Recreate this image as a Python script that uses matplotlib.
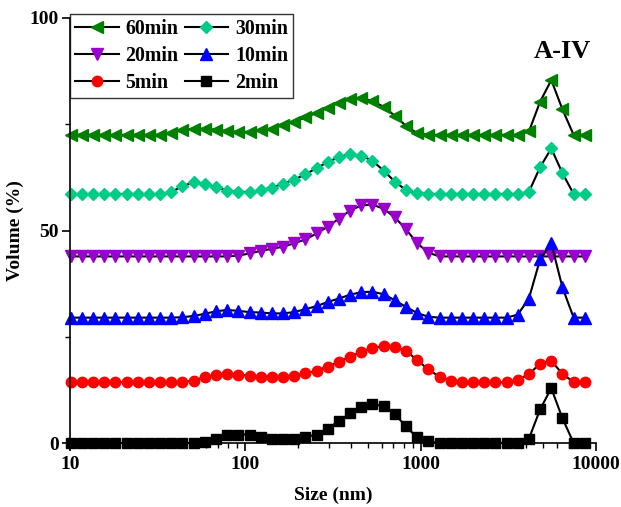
import numpy as np
import matplotlib
matplotlib.use("Agg")
import matplotlib.pyplot as plt
from matplotlib.ticker import LogLocator, NullFormatter, MultipleLocator

plt.rcParams['font.family'] = ['Liberation Serif', 'DejaVu Serif']
plt.rcParams['font.weight'] = 'bold'

size_nm = [10.1, 11.7, 13.54, 15.69, 18.17, 21.04, 24.36, 28.21, 32.67, 37.84,
           43.82, 50.75, 58.77, 68.06, 78.82, 91.28, 105.7, 122.4, 141.8, 164.2,
           190.1, 220.2, 255.0, 295.3, 342.0, 396.1, 458.7, 531.2, 615.1, 712.4,
           825.0, 955.4, 1106, 1281, 1484, 1718, 1990, 2305, 2669, 3091,
           3580, 4145, 4801, 5560, 6439, 7456, 8635]

min2 = [0, 0, 0, 0, 0, 0, 0, 0, 0, 0, 0, 0,
        0.3, 1.0, 1.8, 2.0, 2.0, 1.5, 1.0, 1.0, 1.0, 1.4, 2.0, 3.4, 5.2, 7.0,
        8.4, 9.1, 8.7, 6.8, 3.9, 1.3, 0.4,
        0, 0, 0, 0, 0, 0, 0, 0,
        1.0, 7.9, 12.9, 5.8, 0, 0]

min5 = [14.3, 14.3, 14.3, 14.3, 14.3, 14.3, 14.3, 14.3, 14.3, 14.3, 14.3,
        14.7, 15.5, 16.1, 16.3, 16.1, 15.8, 15.5, 15.5, 15.6, 15.8, 16.4, 17.0,
        18.0, 19.1, 20.3, 21.5, 22.4, 22.8, 22.7, 21.7, 19.5, 17.3, 15.6, 14.7,
        14.3, 14.3, 14.3, 14.3, 14.3,
        14.8, 16.2, 18.7, 19.3, 16.3, 14.3, 14.3]

min10 = [29.5, 29.5, 29.5, 29.5, 29.5, 29.5, 29.5, 29.5, 29.5, 29.5,
         29.6, 29.9, 30.4, 31.0, 31.3, 31.1, 30.8, 30.7, 30.5, 30.5, 30.8,
         31.5, 32.2, 33.2, 34.0, 34.9, 35.5, 35.6, 35.0, 33.6, 32.0, 30.6, 29.7,
         29.5, 29.5, 29.5, 29.5, 29.5, 29.5, 29.5,
         30.2, 34.0, 43.2, 47.0, 36.6, 29.5, 29.5]

min20 = [43.9, 43.9, 43.9, 43.9, 43.9, 43.9, 43.9, 43.9, 43.9, 43.9,
         43.9, 43.9, 43.9, 43.9, 43.9,
         44.1, 44.6, 45.2, 45.7, 46.2, 47.0, 47.9, 49.3, 50.9, 52.8, 54.7,
         55.9, 56.1, 55.1, 53.1, 50.3, 47.0, 44.8,
         43.9, 43.9, 43.9, 43.9, 43.9, 43.9, 43.9, 43.9, 43.9, 43.9, 43.9,
         43.9, 43.9, 43.9]

min30 = [58.6, 58.6, 58.6, 58.6, 58.6, 58.6, 58.6, 58.6, 58.6,
         59.1, 60.4, 61.4, 61.0, 60.2, 59.4, 59.1, 59.1, 59.5, 60.1, 61.0,
         62.0, 63.2, 64.7, 66.1, 67.3, 68.0, 67.6, 66.4, 64.1, 61.5, 59.5, 58.8,
         58.6, 58.6, 58.6, 58.6, 58.6, 58.6, 58.6, 58.6, 58.6,
         59.1, 64.9, 69.3, 63.5, 58.6, 58.6]

min60 = [72.5, 72.5, 72.5, 72.5, 72.5, 72.5, 72.5, 72.5, 72.5,
         73.0, 73.6, 74.0, 73.9, 73.7, 73.4, 73.2, 73.2, 73.6, 74.0, 74.8,
         75.6, 76.6, 77.7, 78.9, 80.1, 80.9, 81.1, 80.5, 79.1, 77.0, 74.6, 72.9,
         72.5, 72.5, 72.5, 72.5, 72.5, 72.5, 72.5, 72.5, 72.5,
         73.3, 80.3, 85.4, 78.5, 72.5, 72.5]

fig = plt.figure(figsize=(6.21, 5.07), dpi=100)
ax = fig.add_axes([0.1127, 0.1262, 0.847, 0.8383])

h60, = ax.plot(size_nm, min60, "k-", marker="<", ms=8, mfc="#008000", mec="#008000", lw=1.5, label="60min", clip_on=False)
h30, = ax.plot(size_nm, min30, "k-", marker="D", ms=6.5, mfc="#00CC88", mec="#00CC88", lw=1.5, label="30min", clip_on=False)
h20, = ax.plot(size_nm, min20, "k-", marker="v", ms=8, mfc="#9900CC", mec="#9900CC", lw=1.5, label="20min", clip_on=False)
h10, = ax.plot(size_nm, min10, "k-", marker="^", ms=8, mfc="#0000FF", mec="#0000FF", lw=1.5, label="10min", clip_on=False)
h5, = ax.plot(size_nm, min5, "k-", marker="o", ms=7.5, mfc="#FF0000", mec="#FF0000", lw=1.5, label="5min", clip_on=False)
h2, = ax.plot(size_nm, min2, "k-", marker="s", ms=6.5, mfc="k", mec="k", lw=1.5, label="2min", clip_on=False)

ax.set_xscale("log")
ax.set_xlim(10, 10000)
ax.set_ylim(0, 100)
ax.xaxis.set_minor_locator(LogLocator(base=10, subs=np.arange(2, 10)))
ax.xaxis.set_minor_formatter(NullFormatter())
ax.set_xticks([10, 100, 1000, 10000])
ax.set_xticklabels(["10", "100", "1000", "10000"])
ax.yaxis.set_major_locator(MultipleLocator(50))
ax.yaxis.set_minor_locator(MultipleLocator(25))

ax.spines["top"].set_visible(False)
ax.spines["right"].set_visible(False)
ax.spines["left"].set_linewidth(1.2)
ax.spines["bottom"].set_linewidth(1.2)
ax.tick_params(which="major", direction="out", length=6, width=1.2, labelsize=14)
ax.tick_params(which="minor", direction="out", length=3.5, width=1.0)
ax.tick_params(axis="y", which="major", pad=2)
ax.tick_params(axis="x", which="major", pad=3)

ax.set_xlabel("Size (nm)", fontsize=14, fontweight="bold", labelpad=10)
ax.set_ylabel("Volume (%)", fontsize=14, fontweight="bold", labelpad=4)

ax.text(0.937, 0.92, "A-IV", transform=ax.transAxes, fontsize=19, fontweight="bold",
        ha="center", va="center")

leg = ax.legend(handles=[h60, h20, h5, h30, h10, h2], ncol=2, loc="upper left",
                bbox_to_anchor=(0.0, 1.01), fontsize=14.3, frameon=True, fancybox=False,
                edgecolor="k", borderpad=0.25, labelspacing=0.35, columnspacing=0.3,
                handlelength=2.2, handletextpad=0.35, borderaxespad=0.0)
leg.get_frame().set_linewidth(1.0)

plt.savefig("out.png", dpi=100)
